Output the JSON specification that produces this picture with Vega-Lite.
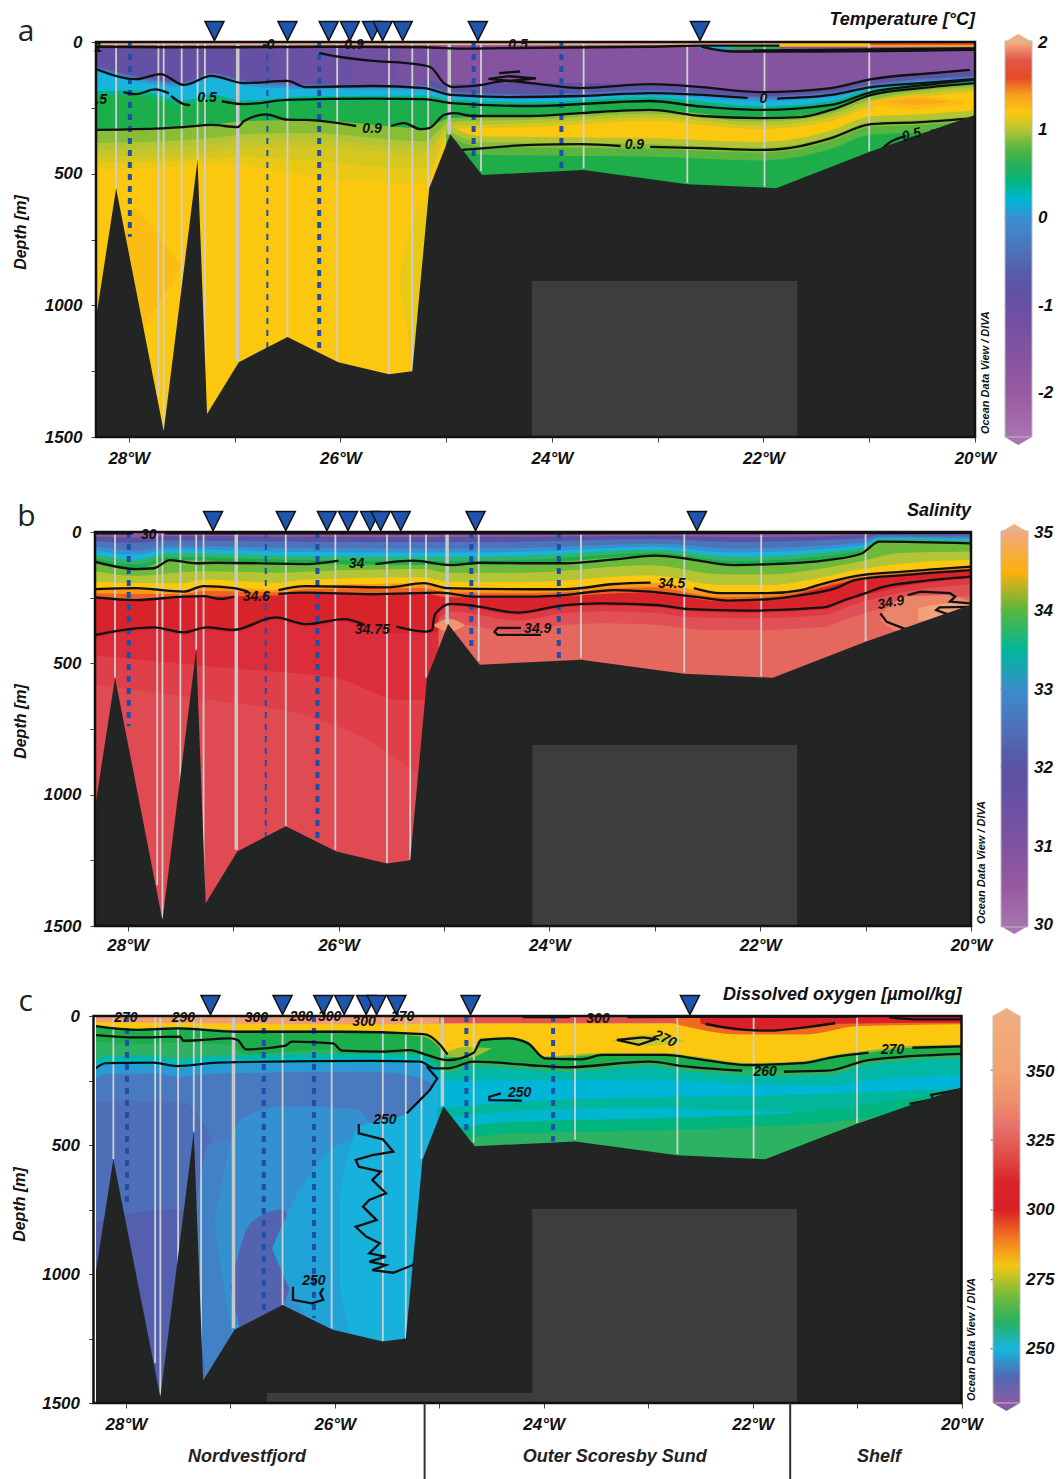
{"$schema":"https://vega.github.io/schema/vega-lite/v6.json","padding":{"left":11,"top":10,"right":0,"bottom":0},"spacing":33,"align":"none","background":"white","config":{"font":"Liberation Sans","view":{"stroke":null},"axis":{"grid":false,"domain":false,"tickSize":5,"tickColor":"#444","labelFont":"Liberation Sans","labelFontSize":17,"labelFontWeight":"bold","labelFontStyle":"italic","labelColor":"#111","labelOverlap":false,"labelFlush":false,"titleFont":"Liberation Sans","titleFontSize":16,"titleFontWeight":"bold","titleFontStyle":"italic","titleColor":"#111"}},"resolve":{"scale":{"color":"independent"}},
"datasets":{
"bathy":[{"x":-28.31,"y":1050},{"x":-28.12,"y":555},{"x":-27.67,"y":1478},{"x":-27.35,"y":448},{"x":-27.26,"y":1413},{"x":-26.96,"y":1216},{"x":-26.5,"y":1120},{"x":-26.02,"y":1216},{"x":-25.54,"y":1262},{"x":-25.32,"y":1250},{"x":-25.16,"y":555},{"x":-24.96,"y":350},{"x":-24.66,"y":505},{"x":-23.7,"y":486},{"x":-22.72,"y":540},{"x":-21.88,"y":555},{"x":-21.0,"y":418},{"x":-20,"y":277}],
"st":[{"x":-28.12,"y":5,"d":554},{"x":-27.72,"y":5,"d":1345},{"x":-27.67,"y":5,"d":1470},{"x":-27.5,"y":5,"d":1035},{"x":-27.35,"y":5,"d":448},{"x":-27.28,"y":5,"d":1410},{"x":-26.5,"y":5,"d":1120},{"x":-26.03,"y":5,"d":1210},{"x":-25.54,"y":5,"d":1260},{"x":-25.32,"y":5,"d":1250},{"x":-25.17,"y":5,"d":554},{"x":-24.67,"y":5,"d":490},{"x":-23.7,"y":5,"d":480},{"x":-22.72,"y":5,"d":535},{"x":-21.99,"y":5,"d":550},{"x":-21.0,"y":5,"d":415}],
"stT":[{"x":-26.97,"y":5,"d":1210},{"x":-24.97,"y":5,"d":350}],
"blT":[{"x":-27.99,"y":0,"d":740},{"x":-26.2,"y":0,"d":1170},{"x":-24.74,"y":0,"d":450},{"x":-23.91,"y":0,"d":486}],
"blN":[{"x":-26.69,"y":0,"d":1165}],
"blC":[{"x":-26.68,"y":0,"d":1165}],
"tri":[{"x":-27.19,"y":0},{"x":-26.5,"y":0},{"x":-26.11,"y":0},{"x":-25.91,"y":0},{"x":-25.7,"y":0},{"x":-25.6,"y":0},{"x":-25.41,"y":0},{"x":-24.7,"y":0},{"x":-22.6,"y":0}],
"frame":[{"x":-28.31,"xe":-20,"y":0,"d":1500}],
"aB":[{"v":-0.95,"x":-28.31,"y":0},{"v":-0.95,"x":-20,"y":0},{"v":-1.05,"x":-26.6,"y":0},{"v":-1.05,"x":-20,"y":0},{"v":-1.2,"x":-25.9,"y":0},{"v":-1.2,"x":-20,"y":0},{"v":-1.35,"x":-25.45,"y":0},{"v":-1.35,"x":-20,"y":0},{"v":-1.55,"x":-25.0,"y":0},{"v":-1.55,"x":-20,"y":0},
{"v":-0.8,"x":-25.21,"y":140},{"v":-0.8,"x":-24.95,"y":160},{"v":-0.8,"x":-24.2,"y":156},{"v":-0.8,"x":-23.07,"y":160},{"v":-0.8,"x":-22.03,"y":190},{"v":-0.8,"x":-21.36,"y":175},{"v":-0.8,"x":-20.98,"y":141},{"v":-0.8,"x":-20,"y":106},
{"v":-0.35,"x":-28.31,"y":92},{"v":-0.35,"x":-27.93,"y":130},{"v":-0.35,"x":-27.48,"y":152},{"v":-0.35,"x":-27.22,"y":118},{"v":-0.35,"x":-26.91,"y":145},{"v":-0.35,"x":-26.33,"y":160},{"v":-0.35,"x":-25.21,"y":164},{"v":-0.35,"x":-24.95,"y":190},{"v":-0.35,"x":-24.2,"y":198},{"v":-0.35,"x":-23.07,"y":183},{"v":-0.35,"x":-22.03,"y":206},{"v":-0.35,"x":-21.36,"y":190},{"v":-0.35,"x":-20.98,"y":160},{"v":-0.35,"x":-20,"y":130},
{"v":0.02,"x":-28.31,"y":100},{"v":0.02,"x":-27.93,"y":138},{"v":0.02,"x":-27.48,"y":160},{"v":0.02,"x":-27.22,"y":126},{"v":0.02,"x":-26.91,"y":153},{"v":0.02,"x":-26.33,"y":168},{"v":0.02,"x":-25.21,"y":172},{"v":0.02,"x":-24.95,"y":198},{"v":0.02,"x":-24.2,"y":206},{"v":0.02,"x":-23.07,"y":191},{"v":0.02,"x":-22.03,"y":214},{"v":0.02,"x":-21.36,"y":198},{"v":0.02,"x":-20.98,"y":168},{"v":0.02,"x":-20,"y":138},
{"v":0.18,"x":-28.31,"y":111},{"v":0.18,"x":-27.93,"y":149},{"v":0.18,"x":-27.48,"y":171},{"v":0.18,"x":-27.22,"y":137},{"v":0.18,"x":-26.91,"y":164},{"v":0.18,"x":-26.33,"y":179},{"v":0.18,"x":-25.21,"y":183},{"v":0.18,"x":-24.95,"y":209},{"v":0.18,"x":-24.2,"y":217},{"v":0.18,"x":-23.07,"y":202},{"v":0.18,"x":-22.03,"y":225},{"v":0.18,"x":-21.36,"y":209},{"v":0.18,"x":-20.98,"y":179},{"v":0.18,"x":-20,"y":149},
{"v":0.42,"x":-28.31,"y":187},{"v":0.42,"x":-27.93,"y":184},{"v":0.42,"x":-27.48,"y":222},{"v":0.42,"x":-27.22,"y":199},{"v":0.42,"x":-26.91,"y":222},{"v":0.42,"x":-26.33,"y":206},{"v":0.42,"x":-25.21,"y":203},{"v":0.42,"x":-24.95,"y":218},{"v":0.42,"x":-24.2,"y":229},{"v":0.42,"x":-23.07,"y":210},{"v":0.42,"x":-22.03,"y":244},{"v":0.42,"x":-21.36,"y":225},{"v":0.42,"x":-20.98,"y":180},{"v":0.42,"x":-20,"y":150},
{"v":0.72,"x":-28.31,"y":205},{"v":0.72,"x":-27.93,"y":202},{"v":0.72,"x":-27.48,"y":240},{"v":0.72,"x":-27.22,"y":217},{"v":0.72,"x":-26.91,"y":240},{"v":0.72,"x":-26.33,"y":224},{"v":0.72,"x":-25.21,"y":221},{"v":0.72,"x":-24.95,"y":236},{"v":0.72,"x":-24.2,"y":247},{"v":0.72,"x":-23.07,"y":228},{"v":0.72,"x":-22.03,"y":262},{"v":0.72,"x":-21.36,"y":243},{"v":0.72,"x":-20.98,"y":194},{"v":0.72,"x":-20,"y":153},
{"v":0.9,"x":-28.31,"y":334},{"v":0.9,"x":-27.93,"y":331},{"v":0.9,"x":-27.48,"y":323},{"v":0.9,"x":-27.22,"y":315},{"v":0.9,"x":-26.91,"y":300},{"v":0.9,"x":-26.33,"y":296},{"v":0.9,"x":-25.21,"y":327},{"v":0.9,"x":-24.95,"y":289},{"v":0.9,"x":-24.2,"y":281},{"v":0.9,"x":-23.07,"y":258},{"v":0.9,"x":-22.03,"y":289},{"v":0.9,"x":-21.36,"y":258},{"v":0.9,"x":-20.98,"y":205},{"v":0.9,"x":-20,"y":160},
{"v":1.0,"x":-28.31,"y":384},{"v":1.0,"x":-27.93,"y":381},{"v":1.0,"x":-27.48,"y":373},{"v":1.0,"x":-27.22,"y":365},{"v":1.0,"x":-26.91,"y":350},{"v":1.0,"x":-26.33,"y":346},{"v":1.0,"x":-25.21,"y":377},{"v":1.0,"x":-24.95,"y":303},{"v":1.0,"x":-24.2,"y":295},{"v":1.0,"x":-23.07,"y":272},{"v":1.0,"x":-22.03,"y":303},{"v":1.0,"x":-21.36,"y":272},{"v":1.0,"x":-20.98,"y":219},{"v":1.0,"x":-20,"y":170},
{"v":1.05,"x":-28.31,"y":409},{"v":1.05,"x":-27.48,"y":398},{"v":1.05,"x":-26.91,"y":375},{"v":1.05,"x":-26.33,"y":371},{"v":1.05,"x":-25.21,"y":402},{"v":1.05,"x":-25,"y":350},
{"v":1.1,"x":-28.31,"y":434},{"v":1.1,"x":-27.93,"y":431},{"v":1.1,"x":-27.48,"y":423},{"v":1.1,"x":-27.22,"y":415},{"v":1.1,"x":-26.91,"y":400},{"v":1.1,"x":-26.33,"y":396},{"v":1.1,"x":-25.21,"y":427},{"v":1.1,"x":-24.95,"y":317},{"v":1.1,"x":-24.2,"y":309},{"v":1.1,"x":-23.07,"y":286},{"v":1.1,"x":-22.03,"y":317},{"v":1.1,"x":-21.36,"y":286},{"v":1.1,"x":-20.98,"y":233},{"v":1.1,"x":-20,"y":180},
{"v":1.15,"x":-28.31,"y":459},{"v":1.15,"x":-27.48,"y":448},{"v":1.15,"x":-26.91,"y":435},{"v":1.15,"x":-26.33,"y":450},{"v":1.15,"x":-25.21,"y":480},{"v":1.15,"x":-25,"y":400},
{"v":1.2,"x":-28.31,"y":484},{"v":1.2,"x":-27.93,"y":481},{"v":1.2,"x":-27.48,"y":473},{"v":1.2,"x":-27.22,"y":465},{"v":1.2,"x":-26.91,"y":470},{"v":1.2,"x":-26.33,"y":506},{"v":1.2,"x":-25.21,"y":537},{"v":1.2,"x":-24.95,"y":331},{"v":1.2,"x":-24.2,"y":323},{"v":1.2,"x":-23.07,"y":300},{"v":1.2,"x":-22.03,"y":331},{"v":1.2,"x":-21.36,"y":300},{"v":1.2,"x":-20.98,"y":247},{"v":1.2,"x":-20,"y":190},
{"v":1.001,"x":-25,"y":310},{"v":1.001,"x":-24.67,"y":358},{"v":1.001,"x":-24.2,"y":361},{"v":1.001,"x":-23.07,"y":365},{"v":1.001,"x":-22.03,"y":380},{"v":1.001,"x":-21.65,"y":365},{"v":1.001,"x":-21.36,"y":335},{"v":1.001,"x":-20.98,"y":282},{"v":1.001,"x":-20.51,"y":274},{"v":1.001,"x":-20,"y":259},
{"v":0.901,"x":-25,"y":332},{"v":0.901,"x":-24.67,"y":380},{"v":0.901,"x":-24.2,"y":383},{"v":0.901,"x":-23.07,"y":387},{"v":0.901,"x":-22.03,"y":402},{"v":0.901,"x":-21.65,"y":387},{"v":0.901,"x":-21.36,"y":357},{"v":0.901,"x":-20.98,"y":304},{"v":0.901,"x":-20.51,"y":296},{"v":0.901,"x":-20,"y":281},
{"v":0.801,"x":-25,"y":350},{"v":0.801,"x":-24.67,"y":398},{"v":0.801,"x":-24.2,"y":401},{"v":0.801,"x":-23.07,"y":405},{"v":0.801,"x":-22.03,"y":420},{"v":0.801,"x":-21.65,"y":405},{"v":0.801,"x":-21.36,"y":375},{"v":0.801,"x":-20.98,"y":322},{"v":0.801,"x":-20.51,"y":314},{"v":0.801,"x":-20,"y":299},
{"v":0.721,"x":-25,"y":380},{"v":0.721,"x":-24.67,"y":428},{"v":0.721,"x":-24.2,"y":431},{"v":0.721,"x":-23.07,"y":435},{"v":0.721,"x":-22.03,"y":450},{"v":0.721,"x":-21.65,"y":435},{"v":0.721,"x":-21.36,"y":405},{"v":0.721,"x":-20.98,"y":352},{"v":0.721,"x":-20.51,"y":344},{"v":0.721,"x":-20,"y":329}],
"aP":[{"v":2,"x":-28.31,"y":0,"d":12},{"v":2,"x":-21.85,"y":0,"d":12},{"v":1.25,"x":-21.85,"y":0,"d":18},{"v":1.25,"x":-20,"y":0,"d":18},{"v":1.55,"x":-21,"y":0,"d":12},{"v":1.55,"x":-20,"y":0,"d":12},{"v":0.73,"x":-22.55,"y":14,"d":28},{"v":0.73,"x":-21.85,"y":14,"d":28},{"v":0.2,"x":-22.6,"y":16,"d":26},{"v":0.2,"x":-22.3,"y":16,"d":26},{"v":1.27,"x":-21.0,"y":225,"d":235},{"v":1.27,"x":-20.6,"y":200,"d":258},{"v":1.27,"x":-20.1,"y":225,"d":235},{"v":1.36,"x":-20.85,"y":225,"d":228},{"v":1.36,"x":-20.55,"y":214,"d":240},{"v":1.36,"x":-20.25,"y":225,"d":228},{"v":1.26,"x":-28.15,"y":850,"d":850},{"v":1.26,"x":-27.95,"y":620,"d":1150},{"v":1.26,"x":-27.5,"y":850,"d":850},{"v":1.151,"x":-25.45,"y":900,"d":900},{"v":1.151,"x":-25.3,"y":650,"d":1250},{"v":1.151,"x":-25.1,"y":560,"d":1250}],
"aC":[{"id":"t1","x":-28.31,"y":18},{"id":"t1","x":-27.5,"y":20},{"id":"t1","x":-26.9,"y":20},{"id":"t1","x":-26,"y":18},{"id":"t1","x":-25.2,"y":20},{"id":"t1","x":-24.9,"y":25},{"id":"t1","x":-24.2,"y":22},{"id":"t1","x":-23.07,"y":18},{"id":"t1","x":-22.59,"y":14},{"id":"t1","x":-21.85,"y":14},{"id":"t2","x":-22.59,"y":18},{"id":"t2","x":-22.3,"y":36},{"id":"t2","x":-21.5,"y":36},{"id":"t2","x":-20,"y":30},{"id":"t3","x":-22.1,"y":32},{"id":"t3","x":-20,"y":24},
{"id":"u","x":-26.2,"y":42},{"id":"u","x":-26,"y":57},{"id":"u","x":-25.69,"y":72},{"id":"u","x":-25.37,"y":80},{"id":"u","x":-25.15,"y":95},{"id":"u","x":-25.02,"y":156},{"id":"u","x":-24.93,"y":171},{"id":"u","x":-24.74,"y":167},{"id":"u","x":-24.42,"y":148},{"id":"u","x":-24.2,"y":156},{"id":"u","x":-23.73,"y":175},{"id":"u","x":-23.07,"y":160},{"id":"u","x":-22.59,"y":171},{"id":"u","x":-22.03,"y":190},{"id":"u","x":-21.36,"y":175},{"id":"u","x":-20.98,"y":141},{"id":"u","x":-20.4,"y":118},{"id":"u","x":-20.05,"y":106},
{"id":"z1","x":-28.31,"y":103},{"id":"z1","x":-27.93,"y":141},{"id":"z1","x":-27.7,"y":122},{"id":"z1","x":-27.48,"y":163},{"id":"z1","x":-27.22,"y":129},{"id":"z1","x":-26.91,"y":156},{"id":"z1","x":-26.5,"y":148},{"id":"z1","x":-26.33,"y":171},{"id":"z1","x":-25.69,"y":167},{"id":"z1","x":-25.21,"y":175},{"id":"z1","x":-24.95,"y":201},{"id":"z1","x":-24.42,"y":209},{"id":"z1","x":-23.73,"y":205},{"id":"z1","x":-23.07,"y":194},{"id":"z1","x":-22.15,"y":212},{"id":"z2","x":-21.87,"y":215},{"id":"z2","x":-21.36,"y":201},{"id":"z2","x":-20.98,"y":171},{"id":"z2","x":-20.51,"y":156},{"id":"z2","x":-20,"y":141},
{"id":"f1","x":-28.05,"y":190},{"id":"f1","x":-27.93,"y":198},{"id":"f1","x":-27.75,"y":180},{"id":"f1","x":-27.62,"y":195},{"id":"f2","x":-27.6,"y":205},{"id":"f2","x":-27.48,"y":236},{"id":"f2","x":-27.42,"y":240},{"id":"f3","x":-27.12,"y":225},{"id":"f3","x":-26.91,"y":236},{"id":"f3","x":-26.5,"y":220},{"id":"f3","x":-25.69,"y":215},{"id":"f3","x":-25.21,"y":217},{"id":"f3","x":-24.95,"y":232},{"id":"f3","x":-24.2,"y":243},{"id":"f3","x":-23.07,"y":224},{"id":"f3","x":-22.59,"y":245},{"id":"f3","x":-22.03,"y":258},{"id":"f3","x":-21.36,"y":239},{"id":"f3","x":-20.98,"y":190},{"id":"f3","x":-20.51,"y":165},{"id":"f3","x":-20,"y":144},
{"id":"n1","x":-28.31,"y":334},{"id":"n1","x":-27.93,"y":331},{"id":"n1","x":-27.48,"y":323},{"id":"n1","x":-27.22,"y":315},{"id":"n1","x":-26.97,"y":323},{"id":"n1","x":-26.91,"y":300},{"id":"n1","x":-26.7,"y":275},{"id":"n1","x":-26.5,"y":295},{"id":"n1","x":-26.33,"y":296},{"id":"n1","x":-25.85,"y":319},{"id":"n2","x":-25.52,"y":319},{"id":"n2","x":-25.4,"y":308},{"id":"n2","x":-25.24,"y":331},{"id":"n2","x":-25.16,"y":327},{"id":"n2","x":-25.02,"y":277},{"id":"n2","x":-24.93,"y":270},{"id":"n2","x":-24.74,"y":281},{"id":"n2","x":-24.2,"y":281},{"id":"n2","x":-23.73,"y":270},{"id":"n2","x":-23.07,"y":258},{"id":"n2","x":-22.59,"y":281},{"id":"n2","x":-22.03,"y":289},{"id":"n2","x":-21.65,"y":285},{"id":"n2","x":-21.36,"y":258},{"id":"n2","x":-20.98,"y":201},{"id":"n2","x":-20.51,"y":175},{"id":"n2","x":-20,"y":156},
{"id":"m1","x":-24.85,"y":410},{"id":"m1","x":-24.2,"y":391},{"id":"m1","x":-23.73,"y":388},{"id":"m1","x":-23.35,"y":395},{"id":"m2","x":-23.07,"y":398},{"id":"m2","x":-22.59,"y":403},{"id":"m2","x":-22.03,"y":410},{"id":"m2","x":-21.65,"y":395},{"id":"m2","x":-21.36,"y":365},{"id":"m2","x":-20.98,"y":312},{"id":"m2","x":-20.51,"y":304},{"id":"m2","x":-20,"y":289},
{"id":"q1","x":-20.89,"y":410},{"id":"q1","x":-20.8,"y":380},{"id":"q1","x":-20.65,"y":357},{"id":"q2","x":-20.42,"y":338},{"id":"q2","x":-20.28,"y":327}],
"aJ":[{"id":"l","n":1,"x":-24.5,"y":118},{"id":"l","n":2,"x":-24.3,"y":112},{"id":"l","n":3,"x":-24.5,"y":118},{"id":"k","n":4,"x":-24.6,"y":140},{"id":"k","n":5,"x":-24.4,"y":130},{"id":"k","n":6,"x":-24.15,"y":138},{"id":"k","n":7,"x":-24.4,"y":148},{"id":"k","n":8,"x":-24.6,"y":140}],
"aL":[{"x":-28.29,"y":23,"label":"1"},{"x":-28.26,"y":220,"label":".5"},{"x":-27.26,"y":213,"label":"0.5"},{"x":-26.68,"y":11,"label":"-0"},{"x":-25.87,"y":11,"label":"0.9"},{"x":-24.32,"y":11,"label":"0.5"},{"x":-25.7,"y":330,"label":"0.9"},{"x":-23.22,"y":391,"label":"0.9"},{"x":-22,"y":216,"label":"0"}],
"bB":[{"v":30.6,"x":-28.31,"y":0},{"v":30.6,"x":-20,"y":0},
{"v":32.0,"x":-28.31,"y":17},{"v":32.0,"x":-27.92,"y":21},{"v":32.0,"x":-27.6,"y":16},{"v":32.0,"x":-26.3,"y":18},{"v":32.0,"x":-24.93,"y":19},{"v":32.0,"x":-24.17,"y":18},{"v":32.0,"x":-22.99,"y":14},{"v":32.0,"x":-22.25,"y":19},{"v":32.0,"x":-21.03,"y":12},{"v":32.0,"x":-20.87,"y":6},{"v":32.0,"x":-20,"y":6},
{"v":32.6,"x":-28.31,"y":34},{"v":32.6,"x":-27.92,"y":42},{"v":32.6,"x":-27.6,"y":32},{"v":32.6,"x":-26.3,"y":37},{"v":32.6,"x":-24.93,"y":38},{"v":32.6,"x":-24.17,"y":36},{"v":32.6,"x":-22.99,"y":27},{"v":32.6,"x":-22.25,"y":38},{"v":32.6,"x":-21.03,"y":24},{"v":32.6,"x":-20.87,"y":11},{"v":32.6,"x":-20,"y":13},
{"v":33.05,"x":-28.31,"y":56},{"v":33.05,"x":-27.92,"y":70},{"v":33.05,"x":-27.6,"y":54},{"v":33.05,"x":-26.3,"y":61},{"v":33.05,"x":-24.93,"y":63},{"v":33.05,"x":-24.17,"y":60},{"v":33.05,"x":-22.99,"y":45},{"v":33.05,"x":-22.25,"y":63},{"v":33.05,"x":-21.03,"y":40},{"v":33.05,"x":-20.87,"y":18},{"v":33.05,"x":-20,"y":21},
{"v":33.3,"x":-28.31,"y":70},{"v":33.3,"x":-27.92,"y":87},{"v":33.3,"x":-27.6,"y":66},{"v":33.3,"x":-26.3,"y":76},{"v":33.3,"x":-24.93,"y":78},{"v":33.3,"x":-24.17,"y":74},{"v":33.3,"x":-22.99,"y":56},{"v":33.3,"x":-22.25,"y":78},{"v":33.3,"x":-21.03,"y":50},{"v":33.3,"x":-20.87,"y":23},{"v":33.3,"x":-20,"y":27},
{"v":33.6,"x":-28.31,"y":85},{"v":33.6,"x":-27.92,"y":106},{"v":33.6,"x":-27.6,"y":80},{"v":33.6,"x":-26.3,"y":92},{"v":33.6,"x":-24.93,"y":95},{"v":33.6,"x":-24.17,"y":89},{"v":33.6,"x":-22.99,"y":68},{"v":33.6,"x":-22.25,"y":95},{"v":33.6,"x":-21.03,"y":61},{"v":33.6,"x":-20.87,"y":28},{"v":33.6,"x":-20,"y":32},
{"v":33.9,"x":-28.31,"y":99},{"v":33.9,"x":-27.92,"y":124},{"v":33.9,"x":-27.6,"y":94},{"v":33.9,"x":-26.3,"y":107},{"v":33.9,"x":-24.93,"y":111},{"v":33.9,"x":-24.17,"y":105},{"v":33.9,"x":-22.99,"y":79},{"v":33.9,"x":-22.25,"y":111},{"v":33.9,"x":-21.03,"y":71},{"v":33.9,"x":-20.87,"y":33},{"v":33.9,"x":-20,"y":38},
{"v":34.05,"x":-28.31,"y":113},{"v":34.05,"x":-27.92,"y":141},{"v":34.05,"x":-27.6,"y":107},{"v":34.05,"x":-26.3,"y":122},{"v":34.05,"x":-24.93,"y":126},{"v":34.05,"x":-24.17,"y":119},{"v":34.05,"x":-22.99,"y":90},{"v":34.05,"x":-22.25,"y":126},{"v":34.05,"x":-21.03,"y":81},{"v":34.05,"x":-20.87,"y":37},{"v":34.05,"x":-20,"y":43},
{"v":34.25,"x":-28.31,"y":150},{"v":34.25,"x":-27.92,"y":167},{"v":34.25,"x":-27.47,"y":152},{"v":34.25,"x":-27.28,"y":149},{"v":34.25,"x":-26.57,"y":155},{"v":34.25,"x":-26.32,"y":151},{"v":34.25,"x":-25.19,"y":141},{"v":34.25,"x":-24.97,"y":156},{"v":34.25,"x":-24.17,"y":154},{"v":34.25,"x":-23.04,"y":127},{"v":34.25,"x":-22.38,"y":161},{"v":34.25,"x":-21.93,"y":162},{"v":34.25,"x":-21.45,"y":141},{"v":34.25,"x":-21.1,"y":116},{"v":34.25,"x":-20.64,"y":79},{"v":34.25,"x":-20,"y":74},
{"v":34.45,"x":-28.31,"y":189},{"v":34.45,"x":-27.92,"y":194},{"v":34.45,"x":-27.47,"y":195},{"v":34.45,"x":-27.28,"y":181},{"v":34.45,"x":-26.57,"y":193},{"v":34.45,"x":-26.32,"y":182},{"v":34.45,"x":-25.19,"y":172},{"v":34.45,"x":-24.97,"y":189},{"v":34.45,"x":-24.17,"y":190},{"v":34.45,"x":-23.04,"y":165},{"v":34.45,"x":-22.38,"y":202},{"v":34.45,"x":-21.93,"y":202},{"v":34.45,"x":-21.45,"y":176},{"v":34.45,"x":-21.1,"y":146},{"v":34.45,"x":-20.64,"y":120},{"v":34.45,"x":-20,"y":107},
{"v":34.55,"x":-28.31,"y":218},{"v":34.55,"x":-27.92,"y":214},{"v":34.55,"x":-27.47,"y":227},{"v":34.55,"x":-27.28,"y":206},{"v":34.55,"x":-26.57,"y":221},{"v":34.55,"x":-26.32,"y":206},{"v":34.55,"x":-25.19,"y":195},{"v":34.55,"x":-24.97,"y":214},{"v":34.55,"x":-24.17,"y":218},{"v":34.55,"x":-23.04,"y":193},{"v":34.55,"x":-22.38,"y":233},{"v":34.55,"x":-21.93,"y":233},{"v":34.55,"x":-21.45,"y":202},{"v":34.55,"x":-21.1,"y":168},{"v":34.55,"x":-20.64,"y":151},{"v":34.55,"x":-20,"y":132},
{"v":34.66,"x":-28.31,"y":233},{"v":34.66,"x":-27.92,"y":236},{"v":34.66,"x":-27.47,"y":236},{"v":34.66,"x":-27.28,"y":225},{"v":34.66,"x":-26.57,"y":230},{"v":34.66,"x":-26.32,"y":218},{"v":34.66,"x":-25.19,"y":213},{"v":34.66,"x":-24.97,"y":230},{"v":34.66,"x":-24.17,"y":232},{"v":34.66,"x":-23.04,"y":210},{"v":34.66,"x":-22.38,"y":247},{"v":34.66,"x":-21.93,"y":244},{"v":34.66,"x":-21.45,"y":208},{"v":34.66,"x":-21.1,"y":175},{"v":34.66,"x":-20.64,"y":157},{"v":34.66,"x":-20,"y":138},
{"v":34.77,"x":-28.31,"y":251},{"v":34.77,"x":-27.92,"y":261},{"v":34.77,"x":-27.47,"y":248},{"v":34.77,"x":-27.28,"y":246},{"v":34.77,"x":-26.57,"y":242},{"v":34.77,"x":-26.32,"y":233},{"v":34.77,"x":-25.19,"y":233},{"v":34.77,"x":-24.97,"y":248},{"v":34.77,"x":-24.17,"y":248},{"v":34.77,"x":-23.04,"y":229},{"v":34.77,"x":-22.38,"y":263},{"v":34.77,"x":-21.93,"y":258},{"v":34.77,"x":-21.45,"y":216},{"v":34.77,"x":-21.1,"y":185},{"v":34.77,"x":-20.64,"y":166},{"v":34.77,"x":-20,"y":147},
{"v":34.8,"x":-28.31,"y":402},{"v":34.8,"x":-28.1,"y":386},{"v":34.8,"x":-27.75,"y":373},{"v":34.8,"x":-27.47,"y":392},{"v":34.8,"x":-27.25,"y":373},{"v":34.8,"x":-27,"y":383},{"v":34.8,"x":-26.6,"y":335},{"v":34.8,"x":-26.3,"y":361},{"v":34.8,"x":-25.95,"y":342},{"v":34.8,"x":-25.75,"y":364},{"v":34.8,"x":-25.3,"y":389},{"v":34.8,"x":-25.05,"y":383},
{"v":34.83,"x":-28.31,"y":470},{"v":34.83,"x":-27,"y":520},{"v":34.83,"x":-26,"y":560},{"v":34.83,"x":-25.4,"y":640},{"v":34.83,"x":-25.05,"y":640},
{"v":34.85,"x":-28.31,"y":580},{"v":34.85,"x":-27.2,"y":640},{"v":34.85,"x":-26.3,"y":700},{"v":34.85,"x":-25.6,"y":820},{"v":34.85,"x":-25.05,"y":1000},
{"v":34.82,"x":-25.05,"y":308},{"v":34.82,"x":-24.93,"y":282},{"v":34.82,"x":-24.3,"y":315},{"v":34.82,"x":-23.85,"y":286},{"v":34.82,"x":-23.5,"y":280},{"v":34.82,"x":-22.99,"y":286},{"v":34.82,"x":-22.66,"y":302},{"v":34.82,"x":-22.15,"y":307},{"v":34.82,"x":-21.4,"y":295},{"v":34.82,"x":-21.2,"y":267},{"v":34.82,"x":-21,"y":241},{"v":34.82,"x":-20.5,"y":197},{"v":34.82,"x":-20,"y":178},
{"v":34.86,"x":-25.05,"y":330},{"v":34.86,"x":-24.93,"y":304},{"v":34.86,"x":-24.3,"y":337},{"v":34.86,"x":-23.85,"y":308},{"v":34.86,"x":-23.5,"y":302},{"v":34.86,"x":-22.99,"y":308},{"v":34.86,"x":-22.66,"y":324},{"v":34.86,"x":-22.15,"y":329},{"v":34.86,"x":-21.4,"y":317},{"v":34.86,"x":-21.2,"y":289},{"v":34.86,"x":-21,"y":263},{"v":34.86,"x":-20.5,"y":219},{"v":34.86,"x":-20,"y":200},
{"v":34.901,"x":-25.05,"y":375},{"v":34.901,"x":-24.93,"y":349},{"v":34.901,"x":-24.3,"y":382},{"v":34.901,"x":-23.85,"y":353},{"v":34.901,"x":-23.5,"y":347},{"v":34.901,"x":-22.99,"y":353},{"v":34.901,"x":-22.66,"y":369},{"v":34.901,"x":-22.15,"y":374},{"v":34.901,"x":-21.4,"y":362},{"v":34.901,"x":-21.2,"y":334},{"v":34.901,"x":-21,"y":308},{"v":34.901,"x":-20.5,"y":264},{"v":34.901,"x":-20,"y":245}],
"bP":[{"v":34.95,"x":-25.1,"y":355,"d":355},{"v":34.95,"x":-24.95,"y":330,"d":380},{"v":34.95,"x":-24.8,"y":355,"d":355},{"v":34.93,"x":-20.85,"y":310,"d":340},{"v":34.93,"x":-20.6,"y":245,"d":390},{"v":34.93,"x":-20.2,"y":240,"d":340},{"v":34.93,"x":-20,"y":270,"d":290},{"v":34.97,"x":-20.5,"y":290,"d":340},{"v":34.97,"x":-20.2,"y":270,"d":320},{"v":34.97,"x":-20,"y":270,"d":285}],
"bC":[{"id":"a1","x":-28.31,"y":5},{"id":"a1","x":-27.95,"y":5},{"id":"a2","x":-27.65,"y":5},{"id":"a2","x":-24.0,"y":5},{"id":"a2","x":-20,"y":3},
{"id":"s1","x":-28.31,"y":113},{"id":"s1","x":-27.92,"y":141},{"id":"s1","x":-27.75,"y":138},{"id":"s1","x":-27.6,"y":107},{"id":"s1","x":-27.35,"y":119},{"id":"s1","x":-27.15,"y":117},{"id":"s1","x":-26.3,"y":122},{"id":"s1","x":-26,"y":109},{"id":"s2","x":-25.65,"y":122},{"id":"s2","x":-25.29,"y":109},{"id":"s2","x":-24.93,"y":126},{"id":"s2","x":-24.65,"y":117},{"id":"s2","x":-24.17,"y":119},{"id":"s2","x":-23.85,"y":119},{"id":"s2","x":-23.38,"y":104},{"id":"s2","x":-22.99,"y":90},{"id":"s2","x":-22.66,"y":104},{"id":"s2","x":-22.25,"y":126},{"id":"s2","x":-21.93,"y":123},{"id":"s2","x":-21.36,"y":107},{"id":"s2","x":-21.03,"y":81},{"id":"s2","x":-20.98,"y":65},{"id":"s2","x":-20.87,"y":37},{"id":"s2","x":-20.01,"y":43},
{"id":"h1","x":-28.31,"y":218},{"id":"h1","x":-27.92,"y":214},{"id":"h1","x":-27.47,"y":227},{"id":"h1","x":-27.28,"y":206},{"id":"h1","x":-26.99,"y":214},{"id":"h1","x":-26.86,"y":227},{"id":"h2","x":-26.57,"y":221},{"id":"h2","x":-26.32,"y":206},{"id":"h2","x":-25.55,"y":211},{"id":"h2","x":-25.19,"y":195},{"id":"h2","x":-24.97,"y":214},{"id":"h2","x":-24.17,"y":218},{"id":"h2","x":-23.85,"y":218},{"id":"h2","x":-23.38,"y":198},{"id":"h2","x":-23.04,"y":193},{"id":"h3","x":-22.63,"y":214},{"id":"h3","x":-22.38,"y":233},{"id":"h3","x":-21.93,"y":233},{"id":"h3","x":-21.61,"y":221},{"id":"h3","x":-21.45,"y":202},{"id":"h3","x":-21.1,"y":168},{"id":"h3","x":-20.64,"y":151},{"id":"h3","x":-20,"y":132},
{"id":"g1","x":-28.31,"y":249},{"id":"g1","x":-27.92,"y":259},{"id":"g1","x":-27.47,"y":246},{"id":"g1","x":-27.28,"y":244},{"id":"g1","x":-27.12,"y":255},{"id":"g1","x":-26.99,"y":246},{"id":"g2","x":-26.57,"y":236},{"id":"g2","x":-26.32,"y":231},{"id":"g2","x":-25.68,"y":237},{"id":"g2","x":-25.04,"y":231},{"id":"g2","x":-24.72,"y":246},{"id":"g2","x":-24.17,"y":246},{"id":"g2","x":-23.85,"y":240},{"id":"g2","x":-23.38,"y":221},{"id":"g2","x":-23.04,"y":227},{"id":"g2","x":-22.63,"y":246},{"id":"g2","x":-22.3,"y":261},{"id":"g2","x":-21.93,"y":256},{"id":"g2","x":-21.61,"y":240},{"id":"g2","x":-21.28,"y":214},{"id":"g2","x":-21.1,"y":183},{"id":"g2","x":-20.64,"y":164},{"id":"g2","x":-20,"y":145},
{"id":"r1","x":-28.31,"y":392},{"id":"r1","x":-28.1,"y":376},{"id":"r1","x":-27.75,"y":363},{"id":"r1","x":-27.47,"y":382},{"id":"r1","x":-27.25,"y":363},{"id":"r1","x":-27,"y":373},{"id":"r1","x":-26.6,"y":325},{"id":"r1","x":-26.3,"y":351},{"id":"r1","x":-25.95,"y":332},{"id":"r1","x":-25.75,"y":354},{"id":"r2","x":-25.45,"y":360},{"id":"r2","x":-25.17,"y":379},{"id":"r2","x":-25.11,"y":373},{"id":"r2","x":-25.1,"y":341},{"id":"r2","x":-25.08,"y":310},{"id":"r2","x":-24.93,"y":274},{"id":"r2","x":-24.7,"y":282},{"id":"r2","x":-24.3,"y":307},{"id":"r2","x":-23.85,"y":278},{"id":"r2","x":-23.5,"y":272},{"id":"r2","x":-22.99,"y":278},{"id":"r2","x":-22.66,"y":294},{"id":"r2","x":-22.15,"y":299},{"id":"r2","x":-21.4,"y":287},{"id":"r2","x":-21.2,"y":259},{"id":"r2","x":-21,"y":233},{"id":"r2","x":-20.85,"y":211},{"id":"r2","x":-20.5,"y":189},{"id":"r2","x":-20,"y":170}],
"bJ":[{"id":"w","n":1,"x":-24.27,"y":365},{"id":"w","n":2,"x":-24.49,"y":365},{"id":"w","n":3,"x":-24.52,"y":380},{"id":"w","n":4,"x":-24.49,"y":392},{"id":"w","n":5,"x":-24.08,"y":392},{"id":"p","n":6,"x":-20.6,"y":240},{"id":"p","n":7,"x":-20.48,"y":227},{"id":"p","n":8,"x":-20.2,"y":233},{"id":"p","n":9,"x":-20.15,"y":246},{"id":"p","n":10,"x":-20.2,"y":265},{"id":"p","n":11,"x":-20.01,"y":272},{"id":"o","n":12,"x":-20.01,"y":285},{"id":"o","n":13,"x":-20.3,"y":287},{"id":"o","n":14,"x":-20.33,"y":297},{"id":"o","n":15,"x":-20.2,"y":316},{"id":"o","n":16,"x":-20.04,"y":287},{"id":"e","n":17,"x":-20.86,"y":310},{"id":"e","n":18,"x":-20.8,"y":342},{"id":"e","n":19,"x":-20.64,"y":367},{"id":"e","n":20,"x":-20.55,"y":371}],
"bL":[{"x":-27.8,"y":11,"label":"30"},{"x":-25.83,"y":122,"label":"34"},{"x":-26.78,"y":247,"label":"34.6"},{"x":-25.68,"y":373,"label":"34.75"},{"x":-24.11,"y":369,"label":"34.9"},{"x":-22.84,"y":198,"label":"34.5"}],
"cB":[{"v":345,"x":-28.31,"y":0},{"v":345,"x":-20,"y":0},
{"v":281,"x":-28.31,"y":24},{"v":281,"x":-25.3,"y":32},{"v":281,"x":-25,"y":30},{"v":281,"x":-24.2,"y":28},{"v":281,"x":-23,"y":28},{"v":281,"x":-20,"y":28},
{"v":271,"x":-28.31,"y":34},{"v":271,"x":-27.9,"y":48},{"v":271,"x":-27.5,"y":42},{"v":271,"x":-26.93,"y":55},{"v":271,"x":-25.96,"y":55},{"v":271,"x":-25.15,"y":75},{"v":271,"x":-24.99,"y":120},{"v":271,"x":-24.92,"y":150},{"v":271,"x":-24.67,"y":135},{"v":271,"x":-24.6,"y":90},{"v":271,"x":-24.34,"y":80},{"v":271,"x":-24.15,"y":98},{"v":271,"x":-23.99,"y":156},{"v":271,"x":-23.44,"y":143},{"v":271,"x":-22.83,"y":143},{"v":271,"x":-22.5,"y":160},{"v":271,"x":-22.05,"y":182},{"v":271,"x":-21.53,"y":175},{"v":271,"x":-21.21,"y":150},{"v":271,"x":-20.89,"y":134},{"v":271,"x":-20.47,"y":115},{"v":271,"x":-20,"y":110},
{"v":265,"x":-28.31,"y":40},{"v":265,"x":-27.9,"y":54},{"v":265,"x":-27.5,"y":48},{"v":265,"x":-26.93,"y":61},{"v":265,"x":-25.96,"y":61},{"v":265,"x":-25.15,"y":80},{"v":265,"x":-24.99,"y":125},{"v":265,"x":-24.92,"y":160},{"v":265,"x":-24.67,"y":142},{"v":265,"x":-24.6,"y":93},{"v":265,"x":-24.34,"y":87},{"v":265,"x":-24.15,"y":106},{"v":265,"x":-23.99,"y":164},{"v":265,"x":-23.44,"y":151},{"v":265,"x":-22.83,"y":151},{"v":265,"x":-22.5,"y":168},{"v":265,"x":-22.05,"y":190},{"v":265,"x":-21.53,"y":183},{"v":265,"x":-21.21,"y":158},{"v":265,"x":-20.89,"y":142},{"v":265,"x":-20.47,"y":123},{"v":265,"x":-20,"y":118},
{"v":258.5,"x":-28.31,"y":99},{"v":258.5,"x":-27.9,"y":108},{"v":258.5,"x":-27.48,"y":105},{"v":258.5,"x":-27,"y":112},{"v":258.5,"x":-26.85,"y":150},{"v":258.5,"x":-26.48,"y":140},{"v":258.5,"x":-26.02,"y":130},{"v":258.5,"x":-25.93,"y":158},{"v":258.5,"x":-25.54,"y":162},{"v":258.5,"x":-25.28,"y":157},{"v":258.5,"x":-25.12,"y":172},{"v":258.5,"x":-24.92,"y":201},{"v":258.5,"x":-24.67,"y":175},{"v":258.5,"x":-24.15,"y":188},{"v":258.5,"x":-23.8,"y":197},{"v":258.5,"x":-22.99,"y":175},{"v":258.5,"x":-22.67,"y":192},{"v":258.5,"x":-22.05,"y":210},{"v":258.5,"x":-21.7,"y":214},{"v":258.5,"x":-21.28,"y":210},{"v":258.5,"x":-20.89,"y":169},{"v":258.5,"x":-20,"y":145},
{"v":254,"x":-28.31,"y":175},{"v":254,"x":-28.19,"y":155},{"v":254,"x":-27.74,"y":153},{"v":254,"x":-27.51,"y":166},{"v":254,"x":-27.12,"y":153},{"v":254,"x":-25.64,"y":146},{"v":254,"x":-25.18,"y":150},{"v":254,"x":-25.05,"y":175},{"v":254,"x":-24.92,"y":221},{"v":254,"x":-24.67,"y":195},{"v":254,"x":-24.15,"y":208},{"v":254,"x":-23.8,"y":217},{"v":254,"x":-22.99,"y":195},{"v":254,"x":-22.67,"y":212},{"v":254,"x":-22.05,"y":230},{"v":254,"x":-21.7,"y":234},{"v":254,"x":-21.28,"y":230},{"v":254,"x":-20.89,"y":189},{"v":254,"x":-20,"y":165},
{"v":250.5,"x":-28.31,"y":193},{"v":250.5,"x":-28.19,"y":173},{"v":250.5,"x":-27.74,"y":171},{"v":250.5,"x":-27.51,"y":184},{"v":250.5,"x":-27.12,"y":171},{"v":250.5,"x":-25.64,"y":164},{"v":250.5,"x":-25.18,"y":168},{"v":250.5,"x":-25.05,"y":200},{"v":250.5,"x":-24.92,"y":250},{"v":250.5,"x":-24.15,"y":250},{"v":250.5,"x":-22.99,"y":245},{"v":250.5,"x":-22.05,"y":265},{"v":250.5,"x":-21.28,"y":270},{"v":250.5,"x":-20.89,"y":250},{"v":250.5,"x":-20,"y":230},
{"v":254.5,"x":-25.05,"y":360},{"v":254.5,"x":-24.3,"y":335},{"v":254.5,"x":-23,"y":315},{"v":254.5,"x":-22,"y":310},{"v":254.5,"x":-21.3,"y":300},{"v":254.5,"x":-20,"y":280},
{"v":251.5,"x":-25.05,"y":400},{"v":251.5,"x":-24.3,"y":370},{"v":251.5,"x":-23,"y":355},{"v":251.5,"x":-22.3,"y":365},{"v":251.5,"x":-21.6,"y":370},
{"v":256,"x":-25.05,"y":450},{"v":256,"x":-24.3,"y":410},{"v":256,"x":-22.8,"y":395},{"v":256,"x":-21.6,"y":375},{"v":256,"x":-20.5,"y":320},{"v":256,"x":-20,"y":280},
{"v":258.7,"x":-25.05,"y":500},{"v":258.7,"x":-24.3,"y":455},{"v":258.7,"x":-23,"y":445},{"v":258.7,"x":-22,"y":430},{"v":258.7,"x":-21,"y":400},{"v":258.7,"x":-20,"y":300},
{"v":247,"x":-28.31,"y":211},{"v":247,"x":-28.19,"y":191},{"v":247,"x":-27.74,"y":189},{"v":247,"x":-27.51,"y":202},{"v":247,"x":-27.12,"y":189},{"v":247,"x":-25.64,"y":182},{"v":247,"x":-25.18,"y":185},{"v":247,"x":-25.05,"y":230},
{"v":243.5,"x":-28.31,"y":245},{"v":243.5,"x":-28.19,"y":225},{"v":243.5,"x":-27.74,"y":223},{"v":243.5,"x":-27.51,"y":236},{"v":243.5,"x":-27.12,"y":223},{"v":243.5,"x":-25.64,"y":216},{"v":243.5,"x":-25.18,"y":240},{"v":243.5,"x":-25.05,"y":270}],
"cP":[{"v":322,"x":-25,"y":0,"d":28},{"v":322,"x":-22.5,"y":0,"d":28},{"v":292,"x":-22.75,"y":0,"d":30},{"v":292,"x":-22.1,"y":0,"d":72},{"v":292,"x":-21.5,"y":0,"d":72},{"v":292,"x":-21,"y":0,"d":40},{"v":292,"x":-20,"y":0,"d":32},{"v":303,"x":-22.5,"y":0,"d":28},{"v":303,"x":-22.1,"y":0,"d":58},{"v":303,"x":-21.6,"y":0,"d":52},{"v":303,"x":-21.2,"y":0,"d":30},{"v":303,"x":-20,"y":0,"d":26},{"v":275,"x":-23.35,"y":95,"d":95},{"v":275,"x":-23,"y":72,"d":115},{"v":275,"x":-22.65,"y":95,"d":95},{"v":272,"x":-24.95,"y":145,"d":145},{"v":272,"x":-24.75,"y":120,"d":165},{"v":272,"x":-24.5,"y":125,"d":125},
{"v":241.5,"x":-28.31,"y":330,"d":1500},{"v":241.5,"x":-27.5,"y":330,"d":1500},{"v":241.5,"x":-27.25,"y":420,"d":1500},{"v":241.5,"x":-27.1,"y":600,"d":1000},{"v":238,"x":-28.31,"y":800,"d":1500},{"v":238,"x":-27.6,"y":750,"d":1500},{"v":238,"x":-27.35,"y":760,"d":1500},{"v":244.5,"x":-27.35,"y":800,"d":800},{"v":244.5,"x":-27.2,"y":500,"d":1450},{"v":244.5,"x":-26.98,"y":480,"d":1300},{"v":244.5,"x":-26.85,"y":800,"d":800},{"v":246,"x":-27.15,"y":800,"d":800},{"v":246,"x":-26.9,"y":400,"d":1300},{"v":246,"x":-26.5,"y":350,"d":1200},{"v":246,"x":-25.8,"y":360,"d":1280},{"v":246,"x":-25.4,"y":700,"d":700},{"v":239,"x":-27,"y":1050,"d":1050},{"v":239,"x":-26.8,"y":800,"d":1300},{"v":239,"x":-26.5,"y":750,"d":1130},{"v":239,"x":-26.35,"y":950,"d":950},{"v":248,"x":-26.6,"y":900,"d":900},{"v":248,"x":-26.3,"y":650,"d":1150},{"v":248,"x":-25.8,"y":480,"d":1280},{"v":248,"x":-25.6,"y":800,"d":1300},{"v":249.5,"x":-25.95,"y":700,"d":1050},{"v":249.5,"x":-25.77,"y":430,"d":1300},{"v":249.5,"x":-25.5,"y":400,"d":1300},{"v":249.5,"x":-25.31,"y":377,"d":1300},{"v":249.5,"x":-25.09,"y":287,"d":1300},{"v":249.5,"x":-25.02,"y":240,"d":1300}],
"cC":[{"id":"b1","x":-28.29,"y":39},{"id":"b1","x":-27.9,"y":54},{"id":"b1","x":-27.5,"y":48},{"id":"b1","x":-26.93,"y":61},{"id":"b1","x":-25.96,"y":61},{"id":"b1","x":-25.15,"y":70},{"id":"b1","x":-24.99,"y":112},{"id":"b1","x":-24.92,"y":150},
{"id":"b2","x":-28.29,"y":74},{"id":"b2","x":-27.9,"y":83},{"id":"b2","x":-27.48,"y":80},{"id":"b2","x":-27.45,"y":96},{"id":"b2","x":-27,"y":87},{"id":"b2","x":-26.93,"y":93},{"id":"b2","x":-26.85,"y":129},{"id":"b2","x":-26.48,"y":116},{"id":"b2","x":-26.41,"y":99},{"id":"b2","x":-26.02,"y":106},{"id":"b2","x":-25.93,"y":134},{"id":"b2","x":-25.54,"y":138},{"id":"b2","x":-25.28,"y":132},{"id":"b2","x":-25.12,"y":151},{"id":"b2","x":-24.92,"y":171},{"id":"b2","x":-24.67,"y":142},{"id":"b2","x":-24.6,"y":93},{"id":"b2","x":-24.34,"y":87},{"id":"b2","x":-24.15,"y":106},{"id":"b2","x":-23.99,"y":164},{"id":"b2","x":-23.64,"y":168},{"id":"b2","x":-23.44,"y":151},{"id":"b2","x":-22.83,"y":151},{"id":"b2","x":-22.5,"y":168},{"id":"b2","x":-22.05,"y":190},{"id":"b2","x":-21.53,"y":183},{"id":"b2","x":-21.21,"y":158},{"id":"b2","x":-20.89,"y":142},{"id":"b3","x":-20.47,"y":123},{"id":"b3","x":-20,"y":118},
{"id":"c1","x":-28.29,"y":203},{"id":"c1","x":-28.19,"y":183},{"id":"c1","x":-27.74,"y":181},{"id":"c1","x":-27.51,"y":194},{"id":"c1","x":-27.12,"y":181},{"id":"c1","x":-25.64,"y":174},{"id":"c1","x":-25.18,"y":177},{"id":"c1","x":-25.05,"y":203},{"id":"c1","x":-24.92,"y":203},{"id":"c1","x":-24.67,"y":177},{"id":"c1","x":-24.15,"y":190},{"id":"c1","x":-23.8,"y":199},{"id":"c1","x":-22.99,"y":177},{"id":"c1","x":-22.67,"y":194},{"id":"c1","x":-22.1,"y":212},{"id":"c2","x":-21.7,"y":216},{"id":"c2","x":-21.28,"y":212},{"id":"c2","x":-20.89,"y":171},{"id":"c2","x":-20,"y":147},
{"id":"d1","x":-22.45,"y":31},{"id":"d1","x":-22.31,"y":41},{"id":"d1","x":-21.86,"y":57},{"id":"d1","x":-21.44,"y":41},{"id":"d1","x":-21.21,"y":28},{"id":"d2","x":-20.69,"y":5},{"id":"d2","x":-20.4,"y":13},{"id":"d2","x":-20,"y":13},{"id":"d3","x":-24.2,"y":4},{"id":"d3","x":-23.75,"y":4},{"id":"d4","x":-23.2,"y":4},{"id":"d4","x":-21,"y":2}],
"cJ":[{"id":"j1","n":1,"x":-25.12,"y":196},{"id":"j1","n":2,"x":-25.02,"y":242},{"id":"j1","n":3,"x":-25.09,"y":287},{"id":"j1","n":4,"x":-25.31,"y":377},{"id":"j2","n":5,"x":-25.77,"y":419},{"id":"j2","n":6,"x":-25.77,"y":455},{"id":"j2","n":7,"x":-25.54,"y":478},{"id":"j2","n":8,"x":-25.44,"y":526},{"id":"j2","n":9,"x":-25.64,"y":539},{"id":"j2","n":10,"x":-25.8,"y":558},{"id":"j2","n":11,"x":-25.77,"y":584},{"id":"j2","n":12,"x":-25.56,"y":603},{"id":"j2","n":13,"x":-25.64,"y":636},{"id":"j2","n":14,"x":-25.51,"y":687},{"id":"j2","n":15,"x":-25.67,"y":713},{"id":"j2","n":16,"x":-25.73,"y":739},{"id":"j2","n":17,"x":-25.6,"y":791},{"id":"j2","n":18,"x":-25.8,"y":817},{"id":"j2","n":19,"x":-25.7,"y":855},{"id":"j2","n":20,"x":-25.57,"y":881},{"id":"j2","n":21,"x":-25.67,"y":920},{"id":"j2","n":22,"x":-25.51,"y":933},{"id":"j2","n":23,"x":-25.67,"y":952},{"id":"j2","n":24,"x":-25.51,"y":965},{"id":"j2","n":25,"x":-25.64,"y":985},{"id":"j2","n":26,"x":-25.44,"y":995},{"id":"j2","n":27,"x":-25.25,"y":965},{"id":"j2","n":28,"x":-25.23,"y":943},
{"id":"j3","n":29,"x":-26.4,"y":1049},{"id":"j3","n":30,"x":-26.4,"y":1100},{"id":"j3","n":31,"x":-26.22,"y":1114},{"id":"j3","n":32,"x":-26.11,"y":1100},{"id":"j3","n":33,"x":-26.14,"y":1075},{"id":"j3","n":34,"x":-26.11,"y":1055},
{"id":"j4","n":35,"x":-24.41,"y":300},{"id":"j4","n":36,"x":-24.52,"y":313},{"id":"j4","n":37,"x":-24.52,"y":326},{"id":"j4","n":38,"x":-24.21,"y":328},
{"id":"j5","n":39,"x":-20.5,"y":341},{"id":"j5","n":40,"x":-20.27,"y":323},{"id":"j5","n":41,"x":-20.29,"y":306},{"id":"j5","n":42,"x":-20.01,"y":284},
{"id":"j6","n":43,"x":-23.3,"y":93},{"id":"j6","n":44,"x":-23.05,"y":83},{"id":"j6","n":45,"x":-22.93,"y":90},{"id":"j6","n":46,"x":-23.09,"y":112},{"id":"j6","n":47,"x":-23.3,"y":93}],
"cL":[{"x":-28,"y":6,"label":"270"},{"x":-27.45,"y":6,"label":"290"},{"x":-26.75,"y":8,"label":"300"},{"x":-26.32,"y":4,"label":"280"},{"x":-26.05,"y":5,"label":"300"},{"x":-25.72,"y":23,"label":"300"},{"x":-25.35,"y":4,"label":"270"},{"x":-23.48,"y":12,"label":"300"},{"x":-24.23,"y":298,"label":"250"},{"x":-25.52,"y":403,"label":"250"},{"x":-26.2,"y":1027,"label":"250"},{"x":-21.88,"y":217,"label":"260"},{"x":-20.66,"y":132,"label":"270"}]
},
"vconcat":[
{"spacing":35,"align":"none","resolve":{"scale":{"color":"independent"}},"vconcat":[
{"width":879,"height":395,"encoding":{"x":{"field":"x","type":"quantitative","scale":{"domain":[-28.31,-20],"nice":false,"zero":false},"axis":{"values":[-28,-27,-26,-25,-24,-23,-22,-21,-20],"labelExpr":"datum.value%2==0?abs(datum.value)+'°W':''","title":null,"labelPadding":8}},"y":{"field":"y","type":"quantitative","scale":{"domain":[0,1500],"reverse":true,"nice":false,"zero":false},"axis":{"values":[0,250,500,750,1000,1250,1500],"labelExpr":"datum.value%500==0?''+datum.value:''","title":"Depth [m]","titleY":190,"labelPadding":9,"titlePadding":16}}},
"layer":[
{"data":{"name":"aB"},"mark":{"type":"area","clip":true,"interpolate":"monotone"},"encoding":{"y2":{"datum":1500},"detail":{"field":"v"},"color":{"field":"v","type":"quantitative","scale":{"domain":[-2.5,-1.95,-1.19,-0.73,-0.35,0,0.18,0.45,0.72,1,1.2,1.39,1.53,1.75,1.88,2.02],"range":["#a974b1","#96599f","#7150a2","#5a52a3","#4c74bb","#3a8fcf","#17b5dd","#32b36a","#1cae4a","#b3c435","#fcc80f","#f8a51e","#ea5a25","#d9232b","#e8907f","#f3ae7e"]},"legend":{"orient":"none","legendX":909,"legendY":-1,"zindex":0,"title":null,"direction":"vertical","gradientLength":396,"gradientThickness":27,"values":[2,1,0,-1,-2],"labelExpr":"''+datum.value","labelFontSize":17,"labelFontWeight":"bold","labelFontStyle":"italic","labelFont":"Liberation Sans","labelColor":"#111","labelOffset":6,"gradientStrokeColor":"#bbb","gradientStrokeWidth":1}}}},
{"data":{"name":"aP"},"mark":{"type":"area","clip":true},"encoding":{"y2":{"field":"d"},"detail":{"field":"v"},"color":{"field":"v","type":"quantitative","legend":null}}},
{"data":{"name":"st"},"mark":{"type":"rule","color":"#cfcfcf","strokeWidth":1.8},"encoding":{"y2":{"field":"d"}}},
{"data":{"name":"stT"},"mark":{"type":"rule","color":"#c8c8c8","strokeWidth":3.5},"encoding":{"y2":{"field":"d"}}},
{"data":{"name":"blT"},"mark":{"type":"rule","color":"#1f4fa8","strokeWidth":4,"strokeDash":[6,6]},"encoding":{"y2":{"field":"d"}}},
{"data":{"name":"blN"},"mark":{"type":"rule","color":"#1f4fa8","strokeWidth":2,"strokeDash":[6,6]},"encoding":{"y2":{"field":"d"}}},
{"data":{"name":"aC"},"mark":{"type":"line","color":"#111","strokeWidth":2.3,"interpolate":"monotone","clip":true},"encoding":{"detail":{"field":"id"}}},
{"data":{"name":"aJ"},"mark":{"type":"line","color":"#111","strokeWidth":2.3,"clip":true},"encoding":{"detail":{"field":"id"},"order":{"field":"n"}}},
{"data":{"name":"bathy"},"mark":{"type":"area","color":"#232524","clip":true},"encoding":{"y2":{"datum":1500}}},
{"data":{"values":[{"x":-24.19,"xe":-21.68,"y":908,"d":1500}]},"mark":{"type":"rect","color":"#3d3d3d"},"encoding":{"x2":{"field":"xe"},"y2":{"field":"d"}}},
{"data":{"name":"frame"},"mark":{"type":"rect","fill":"transparent","stroke":"#111","strokeWidth":2.5},"encoding":{"x2":{"field":"xe"},"y2":{"field":"d"}}},
{"data":{"name":"tri"},"mark":{"type":"point","shape":"M-1,-1L1,-1L0,1Z","size":361,"filled":true,"fill":"#1f55ac","stroke":"#111","strokeWidth":1.5,"opacity":1,"yOffset":-11}},
{"data":{"name":"aL"},"mark":{"type":"text","fontSize":14,"fontWeight":"bold","fontStyle":"italic","color":"#111"},"encoding":{"text":{"field":"label"}}},
{"data":{"values":[{"x":-20.6,"y":353,"label":"0.5"}]},"mark":{"type":"text","fontSize":14,"fontWeight":"bold","fontStyle":"italic","color":"#111","angle":345},"encoding":{"text":{"field":"label"}}},
{"data":{"values":[{"x":-20,"y":-84,"label":"Temperature [°C]"}]},"mark":{"type":"text","fontSize":18,"fontWeight":"bold","fontStyle":"italic","align":"right","color":"#111"},"encoding":{"text":{"field":"label"}}},
{"data":{"values":[{"x":-28.97,"y":-38,"label":"a"}]},"mark":{"type":"text","fontSize":30,"font":"Open Sans","color":"#222"},"encoding":{"text":{"field":"label"}}},
{"data":{"values":[{"x":-19.9,"y":1489,"label":"Ocean Data View / DIVA"}]},"mark":{"type":"text","fontSize":11,"fontWeight":"bold","fontStyle":"italic","angle":270,"align":"left","baseline":"middle","color":"#111"},"encoding":{"text":{"field":"label"}}},
{"data":{"values":[{"x":-19.59,"y":0}]},"mark":{"type":"point","shape":"M-1,0L0,-0.6L1,0Z","size":729,"filled":true,"fill":"#f3ae7e","opacity":1}},
{"data":{"values":[{"x":-19.59,"y":1500}]},"mark":{"type":"point","shape":"M-1,0L0,0.6L1,0Z","size":729,"filled":true,"fill":"#a974b1","opacity":1}},
{"data":{"values":[{"x":-19.72,"xe":-19.465,"y":333},{"x":-19.72,"xe":-19.465,"y":665},{"x":-19.72,"xe":-19.465,"y":997},{"x":-19.72,"xe":-19.465,"y":1330}]},"mark":{"type":"rule","color":"#555","strokeWidth":1,"strokeDash":[5,17,5]},"encoding":{"x2":{"field":"xe"}}}
]},
{"width":876,"height":394,"encoding":{"x":{"field":"x","type":"quantitative","scale":{"domain":[-28.31,-20],"nice":false,"zero":false,"range":[-1,875]},"axis":{"values":[-28,-27,-26,-25,-24,-23,-22,-21,-20],"labelExpr":"datum.value%2==0?abs(datum.value)+'°W':''","title":null,"labelPadding":6}},"y":{"field":"y","type":"quantitative","scale":{"domain":[0,1500],"reverse":true,"nice":false,"zero":false},"axis":{"values":[0,250,500,750,1000,1250,1500],"labelExpr":"datum.value%500==0?''+datum.value:''","title":"Depth [m]","titleY":189,"labelPadding":9,"titlePadding":15,"offset":1}}},
"layer":[
{"data":{"name":"bB"},"mark":{"type":"area","clip":true,"interpolate":"monotone"},"encoding":{"y2":{"datum":1500},"detail":{"field":"v"},"color":{"field":"v","type":"quantitative","scale":{"domain":[29.98,30.5,31.3,32,32.6,33.05,33.3,33.6,33.9,34.25,34.45,34.6,34.77,34.8,34.85,34.9,34.96,35.02],"range":["#a974b1","#96599f","#7150a2","#5a52a3","#4c74bb","#3a8fcf","#17b5dd","#32b36a","#1cae4a","#b3c435","#fcc80f","#f57f20","#d9232b","#db2d3a","#e04a52","#e5675f","#f0a078","#f3ae7e"]},"legend":{"orient":"none","legendX":905,"legendY":-1,"zindex":0,"title":null,"direction":"vertical","gradientLength":396,"gradientThickness":27,"values":[35,34,33,32,31,30],"labelExpr":"''+datum.value","labelFontSize":17,"labelFontWeight":"bold","labelFontStyle":"italic","labelFont":"Liberation Sans","labelColor":"#111","labelOffset":6,"gradientStrokeColor":"#bbb","gradientStrokeWidth":1}}}},
{"data":{"name":"bP"},"mark":{"type":"area","clip":true,"interpolate":"monotone"},"encoding":{"y2":{"field":"d"},"detail":{"field":"v"},"color":{"field":"v","type":"quantitative","legend":null}}},
{"data":{"name":"st"},"mark":{"type":"rule","color":"#cfcfcf","strokeWidth":1.8},"encoding":{"y2":{"field":"d"}}},
{"data":{"name":"stT"},"mark":{"type":"rule","color":"#c8c8c8","strokeWidth":3.5},"encoding":{"y2":{"field":"d"}}},
{"data":{"name":"blT"},"mark":{"type":"rule","color":"#1f4fa8","strokeWidth":4,"strokeDash":[6,6]},"encoding":{"y2":{"field":"d"}}},
{"data":{"name":"blN"},"mark":{"type":"rule","color":"#1f4fa8","strokeWidth":2,"strokeDash":[6,6]},"encoding":{"y2":{"field":"d"}}},
{"data":{"name":"bC"},"mark":{"type":"line","color":"#111","strokeWidth":2.3,"interpolate":"monotone","clip":true},"encoding":{"detail":{"field":"id"}}},
{"data":{"name":"bJ"},"mark":{"type":"line","color":"#111","strokeWidth":2.3,"clip":true},"encoding":{"detail":{"field":"id"},"order":{"field":"n"}}},
{"data":{"name":"bathy"},"mark":{"type":"area","color":"#232524","clip":true},"encoding":{"y2":{"datum":1500}}},
{"data":{"values":[{"x":-24.16,"xe":-21.65,"y":811,"d":1500}]},"mark":{"type":"rect","color":"#3d3d3d"},"encoding":{"x2":{"field":"xe"},"y2":{"field":"d"}}},
{"data":{"name":"frame"},"mark":{"type":"rect","fill":"transparent","stroke":"#111","strokeWidth":2.5},"encoding":{"x2":{"field":"xe"},"y2":{"field":"d"}}},
{"data":{"name":"tri"},"mark":{"type":"point","shape":"M-1,-1L1,-1L0,1Z","size":361,"filled":true,"fill":"#1f55ac","stroke":"#111","strokeWidth":1.5,"opacity":1,"yOffset":-11}},
{"data":{"name":"bL"},"mark":{"type":"text","fontSize":14,"fontWeight":"bold","fontStyle":"italic","color":"#111"},"encoding":{"text":{"field":"label"}}},
{"data":{"values":[{"x":-20.76,"y":270,"label":"34.9"}]},"mark":{"type":"text","fontSize":14,"fontWeight":"bold","fontStyle":"italic","color":"#111","angle":350},"encoding":{"text":{"field":"label"}}},
{"data":{"values":[{"x":-20,"y":-80,"label":"Salinity"}]},"mark":{"type":"text","fontSize":18,"fontWeight":"bold","fontStyle":"italic","align":"right","color":"#111"},"encoding":{"text":{"field":"label"}}},
{"data":{"values":[{"x":-28.96,"y":-57,"label":"b"}]},"mark":{"type":"text","fontSize":30,"font":"Open Sans","color":"#222"},"encoding":{"text":{"field":"label"}}},
{"data":{"values":[{"x":-19.9,"y":1492,"label":"Ocean Data View / DIVA"}]},"mark":{"type":"text","fontSize":11,"fontWeight":"bold","fontStyle":"italic","angle":270,"align":"left","baseline":"middle","color":"#111"},"encoding":{"text":{"field":"label"}}},
{"data":{"values":[{"x":-19.59,"y":0}]},"mark":{"type":"point","shape":"M-1,0L0,-0.6L1,0Z","size":729,"filled":true,"fill":"#f3ae7e","opacity":1}},
{"data":{"values":[{"x":-19.59,"y":1500}]},"mark":{"type":"point","shape":"M-1,0L0,0.6L1,0Z","size":729,"filled":true,"fill":"#a974b1","opacity":1}},
{"data":{"values":[{"x":-19.72,"xe":-19.46,"y":298},{"x":-19.72,"xe":-19.46,"y":596},{"x":-19.72,"xe":-19.46,"y":895},{"x":-19.72,"xe":-19.46,"y":1193}]},"mark":{"type":"rule","color":"#555","strokeWidth":1,"strokeDash":[5,17,5]},"encoding":{"x2":{"field":"xe"}}}
]}
]},
{"width":868,"height":387,"encoding":{"x":{"field":"x","type":"quantitative","scale":{"domain":[-28.31,-20],"nice":false,"zero":false,"range":[-2.5,865.5]},"axis":{"values":[-28,-27,-26,-25,-24,-23,-22,-21,-20],"labelExpr":"datum.value%2==0?abs(datum.value)+'°W':''","title":null,"labelPadding":8}},"y":{"field":"y","type":"quantitative","scale":{"domain":[0,1500],"reverse":true,"nice":false,"zero":false},"axis":{"values":[0,250,500,750,1000,1250,1500],"labelExpr":"datum.value%500==0?''+datum.value:''","title":"Depth [m]","titleY":188,"labelPadding":9,"titlePadding":14,"offset":2.5}}},
"layer":[
{"data":{"name":"cB"},"mark":{"type":"area","clip":true,"interpolate":"monotone"},"encoding":{"y2":{"datum":1500},"detail":{"field":"v"},"color":{"field":"v","type":"quantitative","scale":{"domain":[230.6,235,243,250,257,265,275,281,289,300,311,330,345,370],"range":["#8a5aa5","#5a52a3","#4c74bb","#17b5dd","#32b36a","#1cae4a","#bfc733","#fcc80f","#f57f20","#da2027","#d9232b","#e8706a","#f0a070","#f3ae7e"]},"legend":{"orient":"none","legendX":897,"legendY":0,"zindex":0,"title":null,"direction":"vertical","gradientLength":387,"gradientThickness":27,"values":[350,325,300,275,250],"labelFontSize":17,"labelFontWeight":"bold","labelFontStyle":"italic","labelFont":"Liberation Sans","labelColor":"#111","labelOffset":6,"gradientStrokeColor":"#bbb","gradientStrokeWidth":1}}}},
{"data":{"name":"cP"},"mark":{"type":"area","clip":true,"interpolate":"monotone"},"encoding":{"y2":{"field":"d"},"detail":{"field":"v"},"color":{"field":"v","type":"quantitative","legend":null}}},
{"data":{"name":"st"},"mark":{"type":"rule","color":"#cfcfcf","strokeWidth":1.8},"encoding":{"y2":{"field":"d"}}},
{"data":{"name":"stT"},"mark":{"type":"rule","color":"#c8c8c8","strokeWidth":3.5},"encoding":{"y2":{"field":"d"}}},
{"data":{"name":"blT"},"mark":{"type":"rule","color":"#1f4fa8","strokeWidth":4,"strokeDash":[6,6]},"encoding":{"y2":{"field":"d"}}},
{"data":{"name":"blC"},"mark":{"type":"rule","color":"#1f4fa8","strokeWidth":4,"strokeDash":[6,6]},"encoding":{"y2":{"field":"d"}}},
{"data":{"name":"cC"},"mark":{"type":"line","color":"#111","strokeWidth":2.3,"interpolate":"monotone","clip":true},"encoding":{"detail":{"field":"id"}}},
{"data":{"name":"cJ"},"mark":{"type":"line","color":"#111","strokeWidth":2.3,"clip":true},"encoding":{"detail":{"field":"id"},"order":{"field":"n"}}},
{"data":{"name":"bathy"},"mark":{"type":"area","color":"#232524","clip":true},"encoding":{"y2":{"datum":1500}}},
{"data":{"values":[{"x":-24.11,"xe":-21.575,"y":748,"d":1500},{"x":-26.65,"xe":-24.11,"y":1461,"d":1500}]},"mark":{"type":"rect","color":"#3d3d3d"},"encoding":{"x2":{"field":"xe"},"y2":{"field":"d"}}},
{"data":{"name":"frame"},"mark":{"type":"rect","fill":"transparent","stroke":"#111","strokeWidth":2.5},"encoding":{"x2":{"field":"xe"},"y2":{"field":"d"}}},
{"data":{"name":"tri"},"mark":{"type":"point","shape":"M-1,-1L1,-1L0,1Z","size":361,"filled":true,"fill":"#1f55ac","stroke":"#111","strokeWidth":1.5,"opacity":1,"yOffset":-11}},
{"data":{"name":"cL"},"mark":{"type":"text","fontSize":14,"fontWeight":"bold","fontStyle":"italic","color":"#111"},"encoding":{"text":{"field":"label"}}},
{"data":{"values":[{"x":-22.84,"y":89,"label":"270"}]},"mark":{"type":"text","fontSize":14,"fontWeight":"bold","fontStyle":"italic","color":"#111","angle":25},"encoding":{"text":{"field":"label"}}},
{"data":{"values":[{"x":-20,"y":-81,"label":"Dissolved oxygen [µmol/kg]"}]},"mark":{"type":"text","fontSize":18,"fontWeight":"bold","fontStyle":"italic","align":"right","color":"#111"},"encoding":{"text":{"field":"label"}}},
{"data":{"values":[{"x":-28.96,"y":-54,"label":"c"}]},"mark":{"type":"text","fontSize":30,"font":"Open Sans","color":"#222"},"encoding":{"text":{"field":"label"}}},
{"data":{"values":[{"x":-19.9,"y":1492,"label":"Ocean Data View / DIVA"}]},"mark":{"type":"text","fontSize":11,"fontWeight":"bold","fontStyle":"italic","angle":270,"align":"left","baseline":"middle","color":"#111"},"encoding":{"text":{"field":"label"}}},
{"data":{"values":[{"x":-19.57,"y":0}]},"mark":{"type":"point","shape":"M-1,0L0,-0.6L1,0Z","size":729,"filled":true,"fill":"#f3ae7e","opacity":1}},
{"data":{"values":[{"x":-19.57,"y":1500}]},"mark":{"type":"point","shape":"M-1,0L0,0.6L1,0Z","size":729,"filled":true,"fill":"#8a5aa5","opacity":1}},
{"data":{"values":[{"x":-25.14,"y":1500,"d":1795},{"x":-21.64,"y":1500,"d":1795}]},"mark":{"type":"rule","color":"#333","strokeWidth":2},"encoding":{"y2":{"field":"d"}}},
{"data":{"values":[{"x":-26.84,"y":1709,"label":"Nordvestfjord"},{"x":-23.32,"y":1709,"label":"Outer Scoresby Sund"},{"x":-20.79,"y":1709,"label":"Shelf"}]},"mark":{"type":"text","fontSize":18,"fontWeight":"bold","fontStyle":"italic","color":"#222"},"encoding":{"text":{"field":"label"}}},
{"data":{"values":[{"x":-19.72,"xe":-19.46,"y":210},{"x":-19.72,"xe":-19.46,"y":480},{"x":-19.72,"xe":-19.46,"y":752},{"x":-19.72,"xe":-19.46,"y":1022},{"x":-19.72,"xe":-19.46,"y":1290}]},"mark":{"type":"rule","color":"#555","strokeWidth":1,"strokeDash":[5,17,5]},"encoding":{"x2":{"field":"xe"}}}
]}
]}
